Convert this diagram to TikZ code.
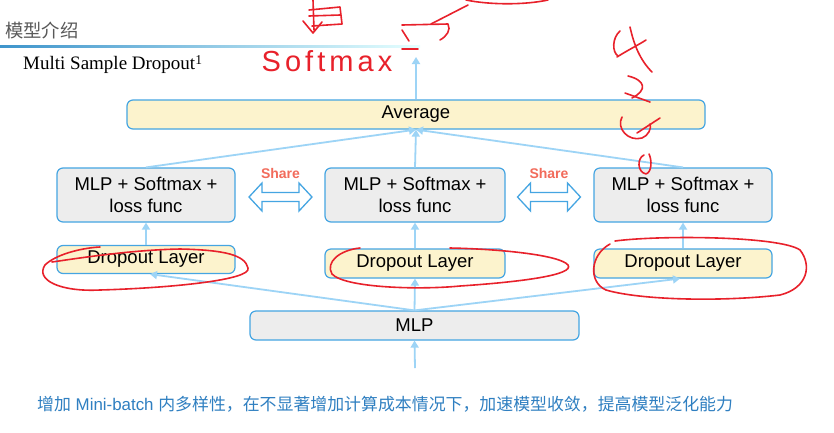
\documentclass[tikz,border=0pt]{standalone}
\usepackage{fontspec}
\setmainfont{Liberation Sans}
\newfontfamily\cjkf{Noto Sans CJK SC}
\newfontfamily\serf{Liberation Serif}
\usetikzlibrary{arrows.meta}
\definecolor{bord}{HTML}{45A5E2}
\definecolor{arr}{HTML}{9DD4F6}
\definecolor{ylw}{HTML}{FCF3CD}
\definecolor{gry}{HTML}{EDEDED}
\definecolor{hand}{HTML}{E8212B}
\definecolor{sharec}{HTML}{F26B5B}
\definecolor{capc}{HTML}{2F7FC1}
\tikzset{
  box/.style={draw=bord, line width=1.2pt, rounded corners=6pt, inner sep=0pt,
    font=\fontsize{18.5}{22}\selectfont, align=center, text=black},
  ybox/.style={box, fill=ylw},
  gbox/.style={box, fill=gry},
  ar/.style={draw=arr, line width=1.8pt, -{Triangle[length=7pt,width=8pt]}},
  handpen/.style={draw=hand, line width=1.6pt, line cap=round, line join=round},
  dbl/.style={draw=bord, line width=1.3pt, fill=white, line join=miter},
}
\begin{document}
\begin{tikzpicture}[x=1pt,y=-1pt]
\useasboundingbox (0,0) rectangle (834,432);
\fill[white] (0,0) rectangle (834,432);

% header
\node[font=\cjkf\fontsize{18.3}{20}\selectfont, text=black!65, anchor=west, inner sep=0] (hdr) at (5,30) {模型介绍};
\shade[left color=bord!90!black, right color=cyan!10] (0,45.3) rectangle (420,47);
\node[font=\serf\fontsize{19}{22}\selectfont, anchor=west, inner sep=0] (ttl) at (23,64.5)
  {Multi Sample Dropout\raisebox{5.5pt}{\fontsize{13.5}{14}\selectfont 1}};

% boxes
\node[ybox, minimum width=578pt, minimum height=29pt] (avg) at (416,114.5) {Average};
\node[gbox, minimum width=178pt, minimum height=54pt] (sl) at (146,195) {MLP + Softmax +\\loss func};
\node[gbox, minimum width=180pt, minimum height=54pt] (sm) at (415,195) {MLP + Softmax +\\loss func};
\node[gbox, minimum width=178pt, minimum height=54pt] (sr) at (683,195) {MLP + Softmax +\\loss func};
\node[ybox, minimum width=178pt, minimum height=28pt] (dl) at (146,259.5) {Dropout Layer};
\node[ybox, minimum width=180pt, minimum height=29pt] (dm) at (415,263.5) {Dropout Layer};
\node[ybox, minimum width=178pt, minimum height=29pt] (dr) at (683,263.5) {Dropout Layer};
\node[gbox, minimum width=329pt, minimum height=29pt] (mlp) at (414.5,325.5) {MLP};

\coordinate (inp) at (415,368);
\coordinate (outp) at (416,57);

% connectors
\draw[ar] (inp) -- (mlp.south);
\draw[ar] (mlp.north) -- ([xshift=4pt]dl.south);
\draw[ar] (mlp.north) -- (dm.south);
\draw[ar] (mlp.north) -- ([xshift=-3pt]dr.south);
\draw[ar] (dl.north) -- (sl.south);
\draw[ar] (dm.north) -- (sm.south);
\draw[ar] (dr.north) -- (sr.south);
\draw[ar] (sl.north) -- (avg.south);
\draw[ar] (sm.north) -- (avg.south);
\draw[ar] (sr.north) -- (avg.south);
\draw[ar] (avg.north) -- (outp);

% share arrows
\foreach \cx/\nm in {280.5/shA,549/shB}{
  \draw[dbl] (\cx-31.5,197) -- (\cx-18.5,183) -- (\cx-18.5,192.5) -- (\cx+18.5,192.5) -- (\cx+18.5,183)
     -- (\cx+31.5,197) -- (\cx+18.5,211) -- (\cx+18.5,201.5) -- (\cx-18.5,201.5) -- (\cx-18.5,211) -- cycle;
  \node[font=\bfseries\fontsize{14}{16}\selectfont, text=sharec, inner sep=0] (\nm) at (\cx,173) {Share};
}

% caption
\node[font=\fontsize{16.9}{20}\selectfont, text=capc, anchor=west, inner sep=0] (cap) at (37,404)
  {{\cjkf 增加} Mini-batch {\cjkf 内多样性，在不显著增加计算成本情况下，加速模型收敛，提高模型泛化能力}};

% handwritten annotations
\node[font=\fontsize{29}{29}\selectfont\addfontfeature{LetterSpace=14}, text=hand, inner sep=0] (hw) at (327,61) {Softmax};
\draw[handpen] (313,0) -- (314,30);
\draw[handpen] (303,21) -- (313,33) -- (322,22);
\draw[handpen] (309,10) -- (340,7) -- (342,24) -- (312,26);
\draw[handpen] (309,16) -- (340,15);
\draw[handpen] (466,0) .. controls (490,5) and (525,5) .. (548,0);
\draw[handpen] (468,5) -- (431,24);
\draw[handpen] (402,25) -- (448,24) .. controls (451,30) and (447,36) .. (440,40);
\draw[handpen] (402,30) -- (409,41);
\draw[handpen] (402,49) -- (418,49);
% right scribbles
\draw[handpen] (620,31) .. controls (612,38) and (612,52) .. (618,56);
\draw[handpen] (617,57) .. controls (628,50) and (640,44) .. (646,40);
\draw[handpen] (630,27) .. controls (634,45) and (640,60) .. (652,72);
\draw[handpen] (628,76) .. controls (645,80) and (648,90) .. (632,98);
\draw[handpen] (625,93) -- (650,102);
\draw[handpen] (622,117) .. controls (616,128) and (628,142) .. (642,138) .. controls (648,136) and (652,128) .. (650,124);
\draw[handpen] (637,133) -- (660,118);
\draw[handpen] (644,155) .. controls (637,158) and (637,172) .. (646,174) .. controls (652,172) and (652,160) .. (649,154);
% ellipses around dropout layers
\draw[handpen] (100,247) .. controls (80,248) and (55,255) .. (45,265)
   .. controls (35,280) and (60,292) .. (100,290) .. controls (170,288) and (252,280) .. (248,268)
   .. controls (245,255) and (225,250) .. (180,249) .. controls (130,250) and (80,258) .. (52,262);
\draw[handpen] (360,248) .. controls (340,250) and (325,262) .. (332,274)
   .. controls (345,288) and (420,290) .. (460,286) .. controls (520,282) and (575,275) .. (568,265)
   .. controls (560,255) and (500,249) .. (450,248);
\draw[handpen] (615,241) .. controls (660,235) and (780,236) .. (800,250)
   .. controls (812,265) and (808,288) .. (780,295) .. controls (720,302) and (640,300) .. (606,290)
   .. controls (588,282) and (590,255) .. (610,244);
\end{tikzpicture}
\end{document}
